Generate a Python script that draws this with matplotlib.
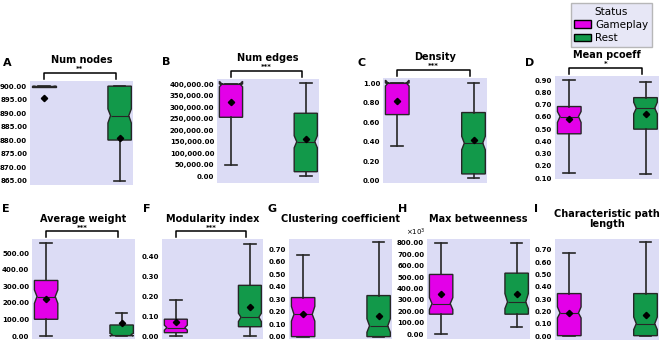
import matplotlib
matplotlib.use("Agg")
import matplotlib.pyplot as plt
from matplotlib.ticker import FuncFormatter, FixedLocator
from matplotlib.patches import Patch
import numpy as np

# ---------------- data ----------------
titles = ["Num nodes", "Num edges", "Density", "Mean pcoeff", "Average weight",
          "Modularity index", "Clustering coefficient", "Max betweenness",
          "Characteristic path\nlength"]
letters = ["A", "B", "C", "D", "E", "F", "G", "H", "I"]
stars = ["**", "***", "***", "*", "***", "***", "", "", ""]
statuses = ["Gameplay", "Rest"]

# Gameplay box statistics
gp_med = [900.0, 400000, 1.00, 0.603, 238, 0.042, 0.178, 267600, 0.188]
gp_q1 = [899.5, 256000, 0.677, 0.462, 101, 0.017, 0.000, 174500, 0.005]
gp_q3 = [900.0, 400000, 1.00, 0.685, 335, 0.085, 0.312, 523600, 0.345]
gp_lo = [899.5, 49500, 0.358, 0.141, 0, 0.002, 0.000, 0, 0.000]
gp_hi = [900.0, 400000, 1.00, 0.900, 560, 0.183, 0.649, 800000, 0.673]
gp_cilo = [900.0, 388000, 0.97, 0.555, 197, 0.030, 0.124, 215000, 0.148]
gp_cihi = [900.0, 412000, 1.03, 0.644, 278, 0.055, 0.242, 320000, 0.237]
gp_mean = [895.8, 323000, 0.8125, 0.587, 222, 0.071, 0.178, 355000, 0.188]

# Rest box statistics
rs_med = [889.1, 150000, 0.385, 0.671, 8, 0.095, 0.086, 282000, 0.102]
rs_q1 = [880.1, 20000, 0.069, 0.500, 2, 0.047, 0.000, 174500, 0.005]
rs_q3 = [900.0, 273500, 0.698, 0.758, 66.5, 0.256, 0.328, 535000, 0.345]
rs_lo = [865.0, 2000, 0.028, 0.130, 0, 0.000, 0.000, 61000, 0.000]
rs_hi = [900.0, 403000, 1.00, 0.889, 141, 0.466, 0.760, 800000, 0.760]
rs_cilo = [886.4, 123600, 0.316, 0.625, 0, 0.073, 0.035, 224000, 0.054]
rs_cihi = [891.6, 176000, 0.455, 0.720, 16, 0.115, 0.143, 355000, 0.156]
rs_mean = [880.9, 160000, 0.420, 0.620, 77, 0.149, 0.167, 349000, 0.175]

# axis ticks
yticks = [
    [865, 870, 875, 880, 885, 890, 895, 900],
    [0, 50000, 100000, 150000, 200000, 250000, 300000, 350000, 400000],
    [0.0, 0.2, 0.4, 0.6, 0.8, 1.0],
    [0.1, 0.2, 0.3, 0.4, 0.5, 0.6, 0.7, 0.8, 0.9],
    [0, 100, 200, 300, 400, 500],
    [0.0, 0.1, 0.2, 0.3, 0.4],
    [0.0, 0.1, 0.2, 0.3, 0.4, 0.5, 0.6, 0.7],
    [0, 100000, 200000, 300000, 400000, 500000, 600000, 700000, 800000],
    [0.0, 0.1, 0.2, 0.3, 0.4, 0.5, 0.6, 0.7],
]

# ---------------- layout / style ----------------
W, H = 660, 343
ylims = [(863.5, 901.9), (-29000, 422000), (-0.024, 1.052), (0.092, 0.935),
         (-18, 585), (-0.015, 0.49), (-0.019, 0.78), (-43600, 835000),
         (-0.03, 0.786)]
rects = [(30, 81, 133, 185), (217, 79, 319, 183), (383, 78, 487, 183),
         (555, 76, 659, 179),
         (32, 239, 135, 339), (162, 239, 263, 339), (289, 239, 392, 339),
         (427, 239, 530, 339), (555, 239, 659, 340)]
letter_pos = [(3, 63), (162, 62), (357, 63), (525, 63),
              (2, 209), (143, 209), (267, 209), (398, 209), (534, 209)]

BG = "#dcdcf5"
C_GP = "#e300e8"
C_RS = "#12994a"
EDGE = "#262626"

fig = plt.figure(figsize=(W / 100, H / 100), dpi=100)

for i in range(9):
    l, t, r, b = rects[i]
    ax = fig.add_axes([l / W, 1 - b / H, (r - l) / W, (b - t) / H])
    ax.set_facecolor(BG)
    for s in ax.spines.values():
        s.set_visible(False)

    stats = []
    for (med, q1, q3, lo, hi, cl, ch, mn) in [
        (gp_med[i], gp_q1[i], gp_q3[i], gp_lo[i], gp_hi[i], gp_cilo[i], gp_cihi[i], gp_mean[i]),
        (rs_med[i], rs_q1[i], rs_q3[i], rs_lo[i], rs_hi[i], rs_cilo[i], rs_cihi[i], rs_mean[i]),
    ]:
        stats.append(dict(med=med, q1=q1, q3=q3, whislo=lo, whishi=hi,
                          cilo=cl, cihi=ch, mean=mn, fliers=[]))
    width = 0.31
    positions = [0, 1]
    bp = ax.bxp(stats, positions=positions, widths=width, shownotches=True,
                showmeans=True, patch_artist=True, showfliers=False,
                boxprops=dict(edgecolor=EDGE, linewidth=1.0),
                whiskerprops=dict(color=EDGE, linewidth=1.2),
                capprops=dict(color=EDGE, linewidth=1.2),
                medianprops=dict(color=EDGE, linewidth=0.8),
                meanprops=dict(marker="D", markerfacecolor="black",
                               markeredgecolor="black", markersize=3.2))
    inset = width * 0.39
    for patch, col, pos in zip(bp["boxes"], [C_GP, C_RS], positions):
        patch.set_facecolor(col)
        # shallower notch
        verts = patch.get_path().vertices
        verts[3, 0] = pos + inset
        verts[8, 0] = pos - inset
    for med_line, pos in zip(bp["medians"], positions):
        med_line.set_xdata([pos - inset, pos + inset])

    ax.set_xlim(-0.187, 1.177)
    ax.set_ylim(*ylims[i])
    ax.set_xticks([])
    ax.yaxis.set_major_locator(FixedLocator(yticks[i]))
    if i == 1:
        ax.yaxis.set_major_formatter(FuncFormatter(lambda v, p: f"{v:,.2f}"))
    elif i == 7:
        ax.yaxis.set_major_formatter(FuncFormatter(lambda v, p: f"{v / 1000:.2f}"))
        ax.text(-0.01, 1.015, r"$\times10^3$", transform=ax.transAxes,
                ha="right", va="bottom", fontsize=5, fontweight="bold")
    else:
        ax.yaxis.set_major_formatter(FuncFormatter(lambda v, p: f"{v:.2f}"))
    ax.tick_params(axis="y", length=0, pad=2, labelsize=5)
    for lab in ax.get_yticklabels():
        lab.set_fontweight("bold")

    ax.text(0.5, 1.2, titles[i], transform=ax.transAxes, ha="center",
            va="center", fontsize=7, fontweight="bold", linespacing=1.0)

    if stars[i]:
        trans = ax.get_xaxis_transform()
        x0, x1 = 0.0, 0.95
        ax.plot([x0, x0, x1, x1], [1.02, 1.08, 1.08, 1.02], color="black",
                lw=1.1, transform=trans, clip_on=False)
        ax.text((x0 + x1) / 2, 1.115, stars[i], transform=trans, ha="center",
                va="center", fontsize=5, fontweight="bold")

    lx, ly = letter_pos[i]
    fig.text(lx / W, 1 - ly / H, letters[i], ha="left", va="center",
             fontsize=8, fontweight="bold")

handles = [Patch(facecolor=C_GP, edgecolor="black", label="Gameplay"),
           Patch(facecolor=C_RS, edgecolor="black", label="Rest")]
leg = fig.legend(handles=handles, title="Status", loc="upper right",
                 bbox_to_anchor=(652 / W, 1 - 3 / H), fontsize=7.5,
                 title_fontsize=7.5, frameon=True, fancybox=False,
                 handlelength=1.6, handleheight=0.7, borderpad=0.35,
                 labelspacing=0.3, handletextpad=0.4, borderaxespad=0)
leg.get_frame().set_facecolor("#e2e2f4")
leg.get_frame().set_edgecolor("#a8a8a8")

fig.savefig("out.png", dpi=100)
